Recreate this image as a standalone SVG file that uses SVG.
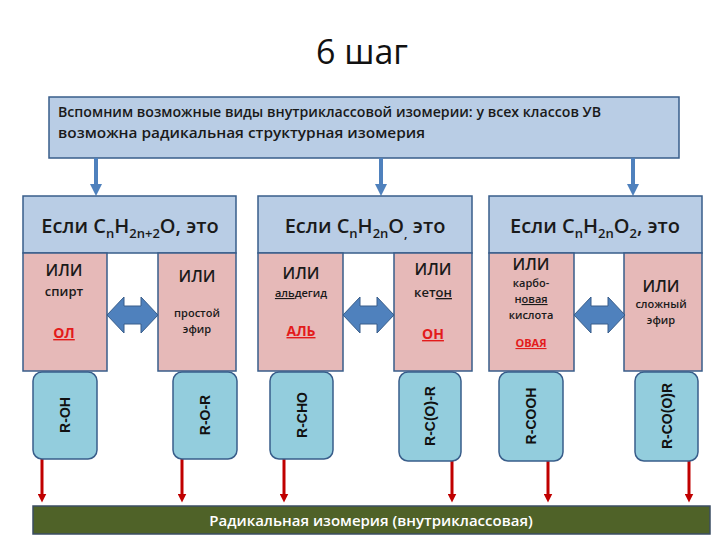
<svg xmlns="http://www.w3.org/2000/svg" width="720" height="540" viewBox="0 0 720 540">
<defs>
<style>
.top{fill:#b9cde5;stroke:#385d8a;stroke-width:1.5}
.hdr{fill:#b9cde5;stroke:#385d8a;stroke-width:1.5}
.pink{fill:#e6b9b8;stroke:#385d8a;stroke-width:1.5}
.rb{fill:#93cddd;stroke:#385d8a;stroke-width:1.5}
.dbl{fill:#4f81bd;stroke:#385d8a;stroke-width:1}
.t{font-family:"Open Sans","Noto Sans","DejaVu Sans",sans-serif;fill:#1a1a1a}
.h{font-size:20px;text-anchor:middle;font-weight:600}
.ili{font-size:16px;text-anchor:middle;font-weight:600}
.sm{font-size:11px;text-anchor:middle;font-weight:600}
.md{font-size:13px;text-anchor:middle;font-weight:600}
.red{fill:#e31b1b;font-weight:bold;text-anchor:middle;text-decoration:underline}
.rot{font-family:"Liberation Sans",Arial,sans-serif;font-size:14px;font-weight:bold;fill:#111;text-anchor:middle}
.blue{stroke:#4f81bd;stroke-width:4;fill:none}
.redl{stroke:#c00000;stroke-width:3;fill:none}
</style>
<marker id="ab" viewBox="0 0 10 10" refX="5" refY="5" markerWidth="3" markerHeight="3" orient="auto"><path d="M0,0 L10,5 L0,10 z" fill="#4f81bd"/></marker>
<marker id="ar" viewBox="0 0 10 10" refX="5" refY="5" markerWidth="3" markerHeight="3" orient="auto"><path d="M0,0 L10,5 L0,10 z" fill="#c00000"/></marker>
<path id="dblarrow" d="M0,18 L17,0 L17,9 L34,9 L34,0 L51,18 L34,36 L34,27 L17,27 L17,36 z"/>
</defs>
<rect width="720" height="540" fill="#ffffff"/>
<text x="362" y="64" text-anchor="middle" font-family="Open Sans,Noto Sans,sans-serif" font-size="34" fill="#111">6 шаг</text>

<g id="top">
<rect class="top" x="49" y="97" width="630" height="61"/>
<text class="t" x="58" y="117" font-size="14" font-weight="600" textLength="543" lengthAdjust="spacingAndGlyphs">Вспомним  возможные виды внутриклассовой изомерии: у всех классов УВ</text>
<text class="t" x="58" y="138" font-size="14" font-weight="600" textLength="367" lengthAdjust="spacingAndGlyphs">возможна радикальная структурная изомерия</text>
</g>

<g id="connectors">
<line class="blue" x1="96" y1="158" x2="96" y2="190" marker-end="url(#ab)"/>
<line class="blue" x1="381" y1="158" x2="381" y2="190" marker-end="url(#ab)"/>
<line class="blue" x1="633" y1="158" x2="633" y2="190" marker-end="url(#ab)"/>
<line class="redl" x1="42" y1="459" x2="42" y2="498" marker-end="url(#ar)"/>
<line class="redl" x1="182" y1="459" x2="182" y2="498" marker-end="url(#ar)"/>
<line class="redl" x1="284" y1="459" x2="284" y2="498" marker-end="url(#ar)"/>
<line class="redl" x1="452" y1="461" x2="452" y2="498" marker-end="url(#ar)"/>
<line class="redl" x1="548" y1="461" x2="548" y2="498" marker-end="url(#ar)"/>
<line class="redl" x1="689" y1="461" x2="689" y2="498" marker-end="url(#ar)"/>
</g>

<g id="group1">
<rect class="hdr" x="23" y="196" width="213" height="57"/>
<text class="t h" x="130" y="233">Если C<tspan font-size="13" dy="5">n</tspan><tspan dy="-5">H</tspan><tspan font-size="13" dy="5">2n+2</tspan><tspan dy="-5">O, это</tspan></text>
<rect class="pink" x="23" y="253" width="84" height="118"/>
<text class="t ili" x="64" y="276">ИЛИ</text>
<text class="t md" x="64" y="296">спирт</text>
<text class="t red" x="64" y="338" font-size="14">ОЛ</text>
<rect class="pink" x="158" y="253" width="78" height="118"/>
<text class="t ili" x="197" y="282">ИЛИ</text>
<text class="t sm" x="197" y="317">простой</text>
<text class="t sm" x="197" y="333">эфир</text>
<use href="#dblarrow" class="dbl" x="107" y="297"/>
</g>

<g id="group2">
<rect class="hdr" x="258" y="196" width="214" height="57"/>
<text class="t h" x="365" y="233">Если C<tspan font-size="13" dy="5">n</tspan><tspan dy="-5">H</tspan><tspan font-size="13" dy="5">2n</tspan><tspan dy="-5">O</tspan><tspan font-size="13" dy="5">,</tspan><tspan dy="-5"> это</tspan></text>
<rect class="pink" x="258" y="253" width="85" height="118"/>
<text class="t ili" x="301" y="279">ИЛИ</text>
<text class="t sm" x="301" y="297"><tspan text-decoration="underline">аль</tspan>дегид</text>
<text class="t red" x="301" y="336" font-size="14">АЛЬ</text>
<rect class="pink" x="394" y="253" width="78" height="118"/>
<text class="t ili" x="433" y="275">ИЛИ</text>
<text class="t md" x="433" y="297">кет<tspan text-decoration="underline">он</tspan></text>
<text class="t red" x="433" y="339" font-size="14">ОН</text>
<use href="#dblarrow" class="dbl" x="343" y="297"/>
</g>

<g id="group3">
<rect class="hdr" x="489" y="196" width="213" height="57"/>
<text class="t h" x="595" y="233">Если C<tspan font-size="13" dy="5">n</tspan><tspan dy="-5">H</tspan><tspan font-size="13" dy="5">2n</tspan><tspan dy="-5">O</tspan><tspan font-size="13" dy="5">2</tspan><tspan dy="-5">, это</tspan></text>
<rect class="pink" x="489" y="253" width="85" height="118"/>
<text class="t ili" x="531" y="270">ИЛИ</text>
<text class="t sm" x="531" y="287">карбо-</text>
<text class="t sm" x="531" y="303">н<tspan text-decoration="underline">овая</tspan></text>
<text class="t sm" x="531" y="319">кислота</text>
<text class="t red" x="531" y="347" font-size="11">ОВАЯ</text>
<rect class="pink" x="624" y="253" width="78" height="118"/>
<text class="t ili" x="661" y="292">ИЛИ</text>
<text class="t sm" x="661" y="308">сложный</text>
<text class="t sm" x="661" y="324">эфир</text>
<use href="#dblarrow" class="dbl" x="574" y="297"/>
</g>

<g id="formulas">
<g id="f1"><rect class="rb" x="33" y="372" width="64" height="87" rx="9"/><text class="rot" transform="translate(70,415) rotate(-90)">R-OH</text></g>
<g id="f2"><rect class="rb" x="173" y="372" width="64" height="87" rx="9"/><text class="rot" transform="translate(210,415) rotate(-90)">R-O-R</text></g>
<g id="f3"><rect class="rb" x="270" y="372" width="63" height="87" rx="9"/><text class="rot" transform="translate(307,415) rotate(-90)">R-CHO</text></g>
<g id="f4"><rect class="rb" x="399" y="372" width="62" height="89" rx="9"/><text class="rot" transform="translate(435,416) rotate(-90)">R-C(O)-R</text></g>
<g id="f5"><rect class="rb" x="499" y="372" width="64" height="89" rx="9"/><text class="rot" transform="translate(536,416) rotate(-90)">R-COOH</text></g>
<g id="f6"><rect class="rb" x="635" y="372" width="63" height="89" rx="9"/><text class="rot" transform="translate(672,416) rotate(-90)">R-CO(O)R</text></g>
</g>

<g id="bar">
<rect x="33" y="506" width="677" height="28" fill="#4f6228" stroke="#3b4e63" stroke-width="1.5"/>
<text x="371" y="526" text-anchor="middle" font-family="Open Sans,Noto Sans,sans-serif" font-size="15" font-weight="600" fill="#ffffff">Радикальная изомерия (внутриклассовая)</text>
</g>
</svg>
